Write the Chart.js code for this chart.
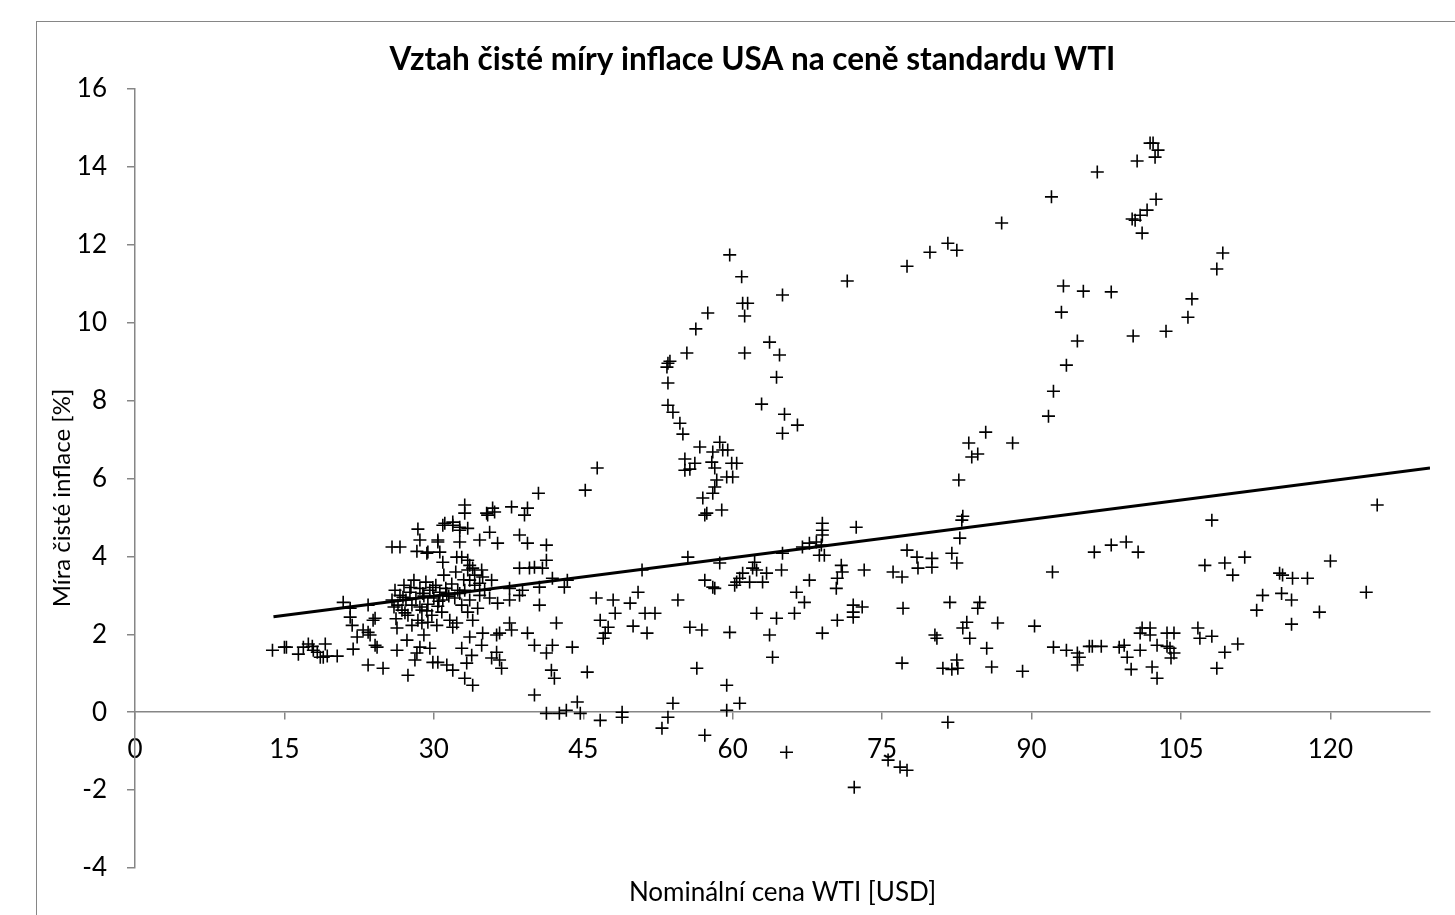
<!DOCTYPE html>
<html>
<head>
<meta charset="utf-8">
<title>Vztah čisté míry inflace USA na ceně standardu WTI</title>
<script src="https://cdn.jsdelivr.net/npm/chart.js@4.4.1/dist/chart.umd.min.js"></script>
<style>
  html, body { margin: 0; padding: 0; background: #fff; overflow: hidden; }
  #frame { position: absolute; left: 36px; top: 21px; width: 1420px; height: 900px; border: 1px solid #868686; }
  canvas { display: block; }
</style>
</head>
<body>
<div id="frame"><canvas id="chart" width="1420" height="900"></canvas></div>
<script>
const chartTitle = "Vztah čisté míry inflace USA na ceně standardu WTI";
const xTitle = "Nominální cena WTI [USD]";
const yTitle = "Míra čisté inflace [%]";

const xTicks = [0, 15, 30, 45, 60, 75, 90, 105, 120];
const yTicks = [-4, -2, 0, 2, 4, 6, 8, 10, 12, 14, 16];

// nominal WTI price [USD]
const wtiPrice = [
  13.8, 15.0, 15.2, 16.4, 16.9, 17.4, 17.8, 17.9, 18.3, 18.6, 19.1, 18.9, 19.3, 20.3, 20.9, 21.6, 21.6, 21.8, 22.3, 21.9,
  22.9, 23.4, 24.1, 24.1, 24.3, 23.4, 24.9, 26.3, 27.4, 25.8, 26.6, 28.4, 28.6, 28.3, 29.3, 23.4, 23.9, 23.6,
  25.8, 26.1, 26.4, 26.6, 26.8, 27.0, 27.2, 27.4, 27.6, 27.8, 28.0, 28.2, 28.4, 28.6, 28.8, 29.0, 29.2, 29.4, 29.6, 29.8,
  30.0, 30.2, 30.4, 30.6, 30.9, 31.2, 31.5, 31.8, 32.1, 32.4, 26.3, 27.3, 28.3, 28.1, 28.6, 27.8, 33.1, 33.6, 34.1, 34.6,
  35.1, 35.6, 32.8, 33.4, 34.4, 30.8, 31.6, 30.3, 29.4, 29.0, 31.0, 32.2, 33.6, 34.8, 26.0, 26.9, 27.7, 28.9, 29.9, 31.3,
  32.6, 33.0, 30.5, 29.3, 27.1, 26.2,
  40.5, 45.2, 33.1, 33.1, 35.9, 36.1, 35.4, 37.8, 39.4, 39.1, 31.1, 31.9, 33.4, 32.6, 35.6, 38.6, 34.6, 36.4, 30.4, 32.6,
  39.4, 41.3, 29.4, 30.6, 30.9, 32.3, 32.8, 33.4, 41.3, 39.6, 38.6, 40.1, 40.9, 33.9, 34.1, 34.9, 35.8, 41.9, 43.4, 43.1,
  40.6, 38.9, 37.6, 33.6, 46.3, 40.6, 37.6, 36.4, 38.6, 42.3, 39.4, 40.1, 41.3, 41.9, 43.9, 45.4, 41.8, 42.1, 40.1, 41.3,
  42.6, 43.3, 44.4, 44.7, 37.6, 37.8, 36.6, 36.3, 34.9, 33.6, 31.9, 32.3, 33.9, 32.8, 34.8, 33.8, 33.3, 36.3, 36.6, 36.8,
  35.8, 29.6, 30.4, 31.3, 31.9, 29.9, 33.1, 33.9, 28.8, 28.6, 30.4, 30.9, 31.9, 32.6, 35.3, 33.4, 34.6,
  59.7, 60.9, 65.0, 61.0, 61.5, 61.2, 57.5, 56.3, 55.4, 61.2, 63.7, 64.7, 64.4, 62.9, 65.2, 65.0, 66.5, 53.5, 53.7, 53.4,
  53.5, 53.5, 54.0, 54.7, 55.0, 56.7, 58.7, 58.0, 59.5, 59.0, 55.2, 56.2, 55.2, 55.7, 57.9, 58.2, 59.9, 60.4, 59.4, 60.0,
  58.4, 58.2, 58.0, 57.0, 57.4, 57.2, 58.9, 46.4,
  69.0, 69.0, 69.0, 72.4, 67.0, 67.7, 68.4, 68.9, 69.2, 68.7, 65.0, 55.5, 58.7, 50.9, 64.9, 62.2, 62.0, 62.4, 63.4, 63.0,
  61.0, 60.7, 60.4, 60.2, 61.7, 57.2, 58.0, 58.2, 70.9, 71.0, 70.5, 70.4, 73.2, 67.7, 66.4, 67.2, 66.2, 62.4, 64.4, 63.7,
  64.0, 69.0, 70.5, 72.1, 73.0, 72.1, 72.1, 50.5, 54.5, 48.0, 49.7, 48.2, 51.2, 52.2, 46.7, 47.5, 47.2, 47.0, 50.0, 51.4,
  55.7, 56.9, 59.7, 56.4, 59.4, 60.7, 59.4, 57.2, 54.0, 53.5, 52.9, 48.9, 48.9, 46.7, 65.4, 72.2,
  83.0, 82.8, 77.5, 78.5, 80.0, 78.6, 80.0, 82.0, 82.5, 76.1, 77.0, 92.1, 96.3, 77.1, 81.8, 84.8, 84.6, 83.5, 83.1, 83.8,
  86.6, 90.3, 80.3, 80.5, 85.5, 77.0, 82.5, 82.6, 81.1, 82.0, 86.0, 89.1, 92.2, 93.5, 94.6, 94.8, 94.6, 96.1, 81.6, 75.6,
  76.8, 77.5,
  98.0, 99.5, 100.7, 108.1, 107.4, 109.4, 110.2, 111.4, 113.2, 112.6, 114.9, 115.2, 116.2, 117.7, 115.1, 116.1, 116.1, 118.9, 120.0, 123.6,
  124.7, 95.8, 97.0, 98.8, 99.3, 99.6, 100.0, 100.9, 101.1, 100.9, 101.9, 101.9, 102.1, 102.6, 102.6, 103.6, 104.3, 103.6, 103.9, 104.3,
  104.0, 106.7, 106.9, 108.1, 109.4, 110.7, 108.6,
  101.9, 102.2, 102.7, 102.4, 100.6, 96.6, 92.0, 87.0, 102.5, 101.6, 100.9, 100.4, 100.1, 101.1, 82.5, 81.6, 109.2, 108.6, 93.2, 95.2,
  98.0, 93.0, 106.1, 105.7, 94.6, 100.2, 103.5, 93.5, 92.2, 91.7, 85.4, 83.7, 84.6, 84.0, 88.1, 82.7, 83.1, 79.8, 77.5, 71.5
];

// core inflation [%]
const coreInflation = [
  1.59, 1.67, 1.67, 1.49, 1.67, 1.75, 1.69, 1.59, 1.54, 1.41, 1.75, 1.41, 1.44, 1.44, 2.82, 2.67, 2.44, 2.23, 1.93, 1.62,
  2.11, 2.05, 2.41, 1.72, 1.67, 1.21, 1.13, 1.59, 0.95, 4.24, 4.24, 4.70, 4.42, 4.13, 4.08, 2.75, 2.36, 1.98,
  2.88, 3.13, 2.75, 3.00, 2.62, 3.26, 2.88, 2.49, 3.08, 2.75, 3.39, 2.93, 2.36, 3.18, 2.62, 2.98, 3.34, 2.77, 3.13, 2.49,
  2.93, 3.26, 2.72, 3.08, 2.88, 3.18, 2.98, 3.29, 2.93, 3.13, 2.16, 1.85, 1.52, 1.34, 1.67, 2.23, 3.13, 2.88, 3.26, 3.00,
  3.13, 2.93, 2.75, 2.57, 2.67, 2.57, 2.36, 2.23, 2.31, 1.98, 3.52, 3.60, 3.77, 3.65, 2.70, 2.95, 3.20, 3.05, 3.20, 3.05,
  3.05, 3.40, 2.85, 2.60, 2.55, 2.40,
  5.62, 5.70, 5.32, 5.11, 5.24, 5.14, 5.06, 5.27, 5.24, 5.06, 4.85, 4.80, 4.72, 4.67, 4.62, 4.55, 4.42, 4.34, 4.37, 4.37,
  4.34, 4.29, 4.11, 4.11, 3.85, 3.98, 3.98, 3.90, 3.90, 3.70, 3.70, 3.72, 3.70, 3.70, 3.52, 3.47, 3.39, 3.44, 3.39, 3.21,
  3.21, 3.13, 3.18, 3.39, 2.93, 2.75, 2.88, 2.80, 3.00, 2.29, 2.03, 1.72, 1.52, 1.72, 1.67, 1.03, 1.08, 0.87, 0.44, -0.03,
  -0.03, 0.05, 0.26, -0.03, 2.29, 2.11, 2.03, 1.98, 2.03, 1.93, 2.18, 2.29, 2.36, 1.64, 1.72, 1.46, 1.26, 1.54, 1.34, 1.13,
  1.39, 1.64, 1.28, 1.21, 1.08, 1.28, 0.87, 0.69, 2.29, 2.70, 4.42, 4.80, 4.88, 4.75, 5.11, 3.65, 3.31,
  11.74, 11.18, 10.71, 10.50, 10.50, 10.17, 10.25, 9.84, 9.22, 9.22, 9.50, 9.17, 8.60, 7.91, 7.65, 7.16, 7.37, 8.96, 9.01, 8.86,
  8.45, 7.88, 7.70, 7.42, 7.14, 6.81, 6.93, 6.68, 6.73, 6.73, 6.50, 6.39, 6.21, 6.24, 6.42, 6.27, 6.39, 6.39, 6.04, 6.04,
  5.96, 5.78, 5.62, 5.50, 5.11, 5.06, 5.19, 6.27,
  4.85, 4.67, 4.55, 4.75, 4.24, 4.34, 4.37, 4.29, 4.03, 4.03, 4.08, 3.98, 3.83, 3.65, 3.65, 3.85, 3.70, 3.65, 3.57, 3.34,
  3.57, 3.44, 3.34, 3.26, 3.34, 3.39, 3.21, 3.18, 3.77, 3.60, 3.44, 3.18, 3.65, 3.39, 3.08, 2.82, 2.54, 2.54, 2.41, 1.98,
  1.41, 2.03, 2.36, 2.75, 2.70, 2.57, 2.44, 3.08, 2.88, 2.88, 2.80, 2.54, 2.54, 2.54, 2.36, 2.18, 2.03, 1.90, 2.21, 2.03,
  2.18, 2.11, 2.05, 1.13, 0.69, 0.23, 0.05, -0.59, 0.23, -0.13, -0.41, 0.00, -0.13, -0.21, -1.03, -1.93,
  4.93, 4.47, 4.16, 3.98, 3.95, 3.70, 3.72, 4.08, 3.83, 3.60, 3.47, 3.60, 4.11, 2.67, 2.82, 2.82, 2.67, 2.31, 2.16, 1.90,
  2.29, 2.21, 1.98, 1.90, 1.64, 1.26, 1.34, 1.13, 1.13, 1.10, 1.16, 1.05, 1.67, 1.59, 1.52, 1.41, 1.21, 1.69, -0.26, -1.23,
  -1.41, -1.49,
  4.29, 4.37, 4.11, 4.93, 3.77, 3.83, 3.52, 3.98, 3.00, 2.62, 3.57, 3.52, 3.44, 3.44, 3.05, 2.88, 2.26, 2.57, 3.88, 3.08,
  5.32, 1.69, 1.69, 1.67, 1.72, 1.41, 1.10, 1.59, 2.16, 2.03, 2.16, 1.98, 1.16, 0.87, 1.72, 2.03, 2.03, 1.69, 1.64, 1.52,
  1.39, 2.16, 1.90, 1.95, 1.54, 1.75, 1.13,
  14.61, 14.61, 14.43, 14.25, 14.15, 13.87, 13.23, 12.56, 13.17, 12.89, 12.76, 12.63, 12.66, 12.30, 11.86, 12.04, 11.79, 11.38, 10.94, 10.81,
  10.79, 10.27, 10.61, 10.14, 9.53, 9.66, 9.78, 8.91, 8.24, 7.60, 7.19, 6.91, 6.63, 6.55, 6.91, 5.96, 5.03, 11.81, 11.45, 11.07
];

// linear trend, read at both ends
const trendPrice = [13.9, 130];
const trendInflation = [2.45, 6.27];

const fontFamily = "Lato, 'Noto Sans', sans-serif";

const points = wtiPrice.map((x, i) => ({ x: x, y: coreInflation[i] }));
const trend = trendPrice.map((x, i) => ({ x: x, y: trendInflation[i] }));

// y axis title sits a bit below the middle, as in the original
const yTitlePlugin = {
  id: "yTitle",
  afterDraw(chart) {
    const ctx = chart.ctx;
    ctx.save();
    ctx.translate(25, 476);
    ctx.rotate(-Math.PI / 2);
    ctx.fillStyle = "#000";
    ctx.font = "24px " + fontFamily;
    ctx.textAlign = "center";
    ctx.textBaseline = "middle";
    ctx.fillText(yTitle, 0, 0);
    ctx.restore();
  }
};

const chart = new Chart(document.getElementById("chart"), {
  type: "scatter",
  data: {
    datasets: [
      {
        type: "line",
        data: trend,
        borderColor: "#000",
        borderWidth: 3,
        pointRadius: 0,
        fill: false,
        order: 0
      },
      {
        data: points,
        pointStyle: "cross",
        pointRadius: 6.5,
        pointHoverRadius: 6.5,
        borderColor: "#000",
        backgroundColor: "#000",
        borderWidth: 1.6,
        order: 1
      }
    ]
  },
  options: {
    responsive: false,
    animation: false,
    layout: { padding: { left: 38, right: 27, top: 0, bottom: 12 } },
    plugins: {
      legend: { display: false },
      tooltip: { enabled: false },
      title: {
        display: true,
        text: chartTitle,
        color: "#000",
        font: { family: fontFamily, size: 31.5, weight: "bold", lineHeight: 1.05 },
        padding: { top: 21.5, bottom: 12.4 }
      },
      subtitle: {
        display: true,
        position: "bottom",
        fullSize: false,
        text: xTitle,
        color: "#000",
        font: { family: fontFamily, size: 26, lineHeight: 24 / 26 },
        padding: { top: 13, bottom: 5 }
      }
    },
    scales: {
      x: {
        type: "linear",
        position: { y: 0 },
        min: 0,
        max: 130,
        afterBuildTicks: (scale) => {
          scale.ticks = xTicks.map((v) => ({ value: v }));
        },
        afterFit: (scale) => {
          scale.paddingLeft = 0;
          scale.paddingRight = 0;
        },
        border: { color: "#868686", width: 1.5 },
        grid: { drawOnChartArea: false, drawTicks: true, tickLength: 7, color: "#868686", lineWidth: 1.5 },
        ticks: { color: "#000", padding: 15, maxRotation: 0, font: { family: fontFamily, size: 26 } }
      },
      y: {
        type: "linear",
        position: "left",
        min: -4,
        max: 16,
        afterBuildTicks: (scale) => {
          scale.ticks = yTicks.map((v) => ({ value: v }));
        },
        afterFit: (scale) => {
          scale.width = 60;
          scale.paddingTop = 0;
          scale.paddingBottom = 0;
        },
        border: { color: "#868686", width: 1.5 },
        grid: { drawOnChartArea: false, drawTicks: true, tickLength: 8, color: "#868686", lineWidth: 1.5 },
        ticks: { color: "#000", padding: 20, font: { family: fontFamily, size: 26 } }
      }
    }
  },
  plugins: [yTitlePlugin]
});
</script>
</body>
</html>
